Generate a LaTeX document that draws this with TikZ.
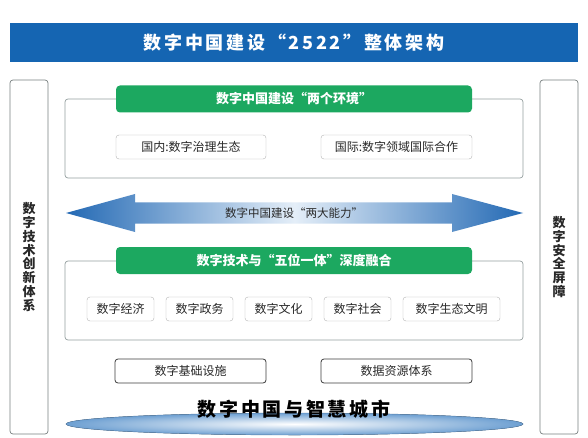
\documentclass[tikz,border=0pt]{standalone}
\usepackage{fontspec}
\usepackage{tikz}
\usetikzlibrary{calc}
\usetikzlibrary{arrows}
\usetikzlibrary{positioning}
\newfontfamily\cjk{Noto Sans CJK SC}
\newfontfamily\cjkwide{Noto Sans CJK SC}[LetterSpace=15]
\newfontfamily\cjkbase{Noto Sans CJK SC}[LetterSpace=14]
\definecolor{titleblue}{RGB}{21, 101, 178}
\definecolor{headgreen}{RGB}{28, 168, 96}
\definecolor{framegray}{RGB}{150, 160, 160}
\definecolor{boxgray}{RGB}{180, 180, 180}
\definecolor{darkline}{RGB}{60, 60, 60}
\definecolor{arrowblue}{RGB}{35, 105, 180}
\definecolor{arrowpale}{RGB}{228, 238, 248}
\definecolor{ellblue}{RGB}{110, 160, 210}
\definecolor{textgray}{RGB}{40, 40, 40}
\tikzset{
    frame/.style={draw=framegray, line width=0.7pt, rounded corners=3pt},
    sidebar/.style={draw=framegray!80!black, line width=0.7pt, rounded corners=3pt,
        minimum width=38pt, minimum height=354pt, inner sep=0pt, align=center,
        text=textgray, font=\cjk\bfseries\fontsize{13}{13.8}\selectfont},
    header/.style={fill=headgreen, rounded corners=4pt, minimum width=356pt,
        minimum height=27pt, inner sep=0pt, text=white,
        font=\cjk\bfseries\fontsize{13}{13}\selectfont},
    itembox/.style={draw=boxgray, fill=white, rounded corners=3pt, minimum height=24pt,
        inner sep=0pt, text=textgray, font=\cjk\fontsize{12}{12}\selectfont},
    basebox/.style={itembox, draw=darkline, line width=0.8pt, minimum width=151pt},
}
\begin{document}
\begin{tikzpicture}[x=1pt, y=-1pt]
    \useasboundingbox[fill=white] (0,0) rectangle (588,438);
    % title bar
    \fill[titleblue] (10,23) rectangle (578,62);
    \node[text=white, font=\cjkwide\bfseries\fontsize{18}{18}\selectfont] (title) at (294,42.5) {数字中国建设“2522”整体架构};
    % side columns
    \node[sidebar] (techbar) at (29,257) {数\\字\\技\\术\\创\\新\\体\\系};
    \node[sidebar] (safebar) at (559,257) {数\\字\\安\\全\\屏\\障};
    % two environments
    \draw[frame] (65,99) rectangle (523,178);
    \node[header] (envhead) at (294,99) {数字中国建设“两个环境”};
    \node[itembox, minimum width=150pt] (domestic) at (191,147) {国内:数字治理生态};
    \node[itembox, minimum width=151pt] (intl) at (396.5,147) {国际:数字领域国际合作};
    % two abilities
    \shade[left color=arrowblue, right color=arrowblue, middle color=arrowpale]
        (66,213) -- (135,194) -- (135,202.5) -- (452,202.5) -- (452,194) -- (523,213)
        -- (452,232) -- (452,223.5) -- (135,223.5) -- (135,232) -- cycle;
    \node[text=textgray, font=\cjk\fontsize{11.5}{11.5}\selectfont] (abilities) at (294,213) {数字中国建设“两大能力”};
    % five in one
    \draw[frame] (65,261) rectangle (523,340);
    \node[header] (fivehead) at (294,260.5) {数字技术与“五位一体”深度融合};
    \node[itembox, minimum width=67pt] (economy) at (120.5,309) {数字经济};
    \node[itembox, minimum width=67pt] (politics) at (199.5,309) {数字政务};
    \node[itembox, minimum width=67pt] (culture) at (278.5,309) {数字文化};
    \node[itembox, minimum width=67pt] (society) at (357.5,309) {数字社会};
    \node[itembox, minimum width=97pt] (ecology) at (451.5,309) {数字生态文明};
    % foundations
    \node[basebox] (infra) at (190.5,371) {数字基础设施};
    \node[basebox] (datares) at (396.5,371) {数据资源体系};
    \filldraw[draw=ellblue!80!black, line width=0.4pt, shading=radial, inner color=white, outer color=ellblue]
        (294.5,424) ellipse (228.5 and 11);
    \node[text=black, font=\cjkbase\bfseries\fontsize{19}{19}\selectfont] (city) at (294,409) {数字中国与智慧城市};
\end{tikzpicture}
\end{document}
